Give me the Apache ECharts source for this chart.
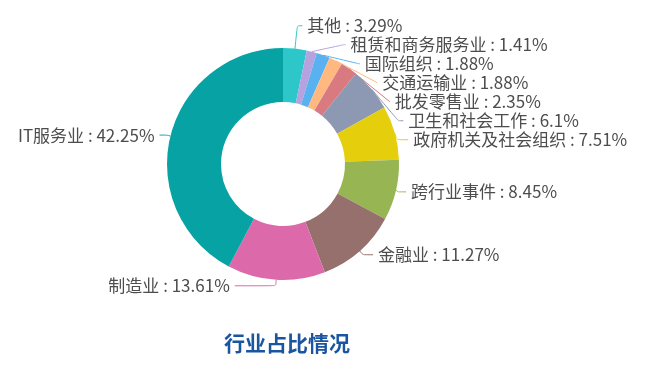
<!DOCTYPE html>
<html><head><meta charset="utf-8">
<script src="https://cdn.jsdelivr.net/npm/echarts@6/dist/echarts.min.js"></script>
<style>html,body{margin:0;padding:0;background:#fff}#c{width:645px;height:376px}</style>
</head><body><div id="c"></div>
<script>
var categories = ['其他','租赁和商务服务业','国际组织','交通运输业','批发零售业','卫生和社会工作','政府机关及社会组织','跨行业事件','金融业','制造业','IT服务业'];
var counts = [7,3,4,4,5,13,16,18,24,29,90];
var titleText = '行业占比情况';
// styling (not data)
var colors = ['#2ec7c9','#b6a2de','#5ab1ef','#ffb980','#d87a80','#8d98b3','#e5cf0d','#97b552','#95706d','#dc69aa','#07a2a4'];
var lineLen  = [23,10,0,0,0,0,0,7,5,6,4];
var lineLen2 = [5,2,1,5,8,15,16,8,10,41,7];
var chart = echarts.init(document.getElementById('c'));
chart.setOption({
  animation:false,
  color: colors,
  title: {text: titleText, left: 219, top: 328, textStyle:{fontSize:21, fontWeight:'bold', color:'#1a56a0', fontFamily:'Noto Sans CJK SC'}},
  series: [{
    type:'pie',
    center:[283,164],
    radius:[62,116],
    startAngle:90,
    bleedMargin:0,
    data: categories.map(function(c,i){return {name:c, value:counts[i], labelLine:{length:lineLen[i], length2:lineLen2[i]}};}),
    label:{formatter:'{b} : {d}%', fontSize:17, lineHeight:15, color:'#4d4d4d', fontFamily:'Noto Sans CJK SC', overflow:'none'},
    labelLine:{smooth:0.2},
    itemStyle:{borderWidth:0}
  }]
});
</script></body></html>
